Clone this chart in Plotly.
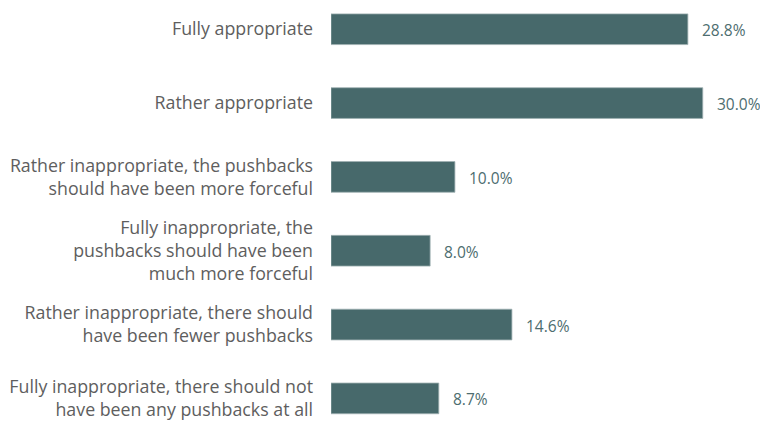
import plotly.graph_objects as go

categories = [
    "Fully appropriate",
    "Rather appropriate",
    "Rather inappropriate, the pushbacks<br>should have been more forceful",
    "Fully inappropriate, the<br>pushbacks should have been<br>much more forceful",
    "Rather inappropriate, there should<br>have been fewer pushbacks",
    "Fully inappropriate, there should not<br>have been any pushbacks at all",
]
shares = [28.8, 30.0, 10.0, 8.0, 14.6, 8.7]
value_labels = ["28.8%", "30.0%", "10.0%", "8.0%", "14.6%", "8.7%"]

BAR = "#47696b"
LABEL = "#5e5e5e"
FONT = "Open Sans"

fig = go.Figure(
    go.Bar(
        x=shares,
        y=categories,
        orientation="h",
        marker=dict(color=BAR, line=dict(color="#9fb1b2", width=0.8)),
        hoverinfo="skip",
    )
)

for cat, val, lab in zip(categories, shares, value_labels):
    fig.add_annotation(
        x=val, y=cat, text=lab, showarrow=False,
        xanchor="left", yanchor="middle", xshift=12, yshift=-1,
        font=dict(family=FONT, size=15.5, color="#4d6d6f"),
    )

fig.update_layout(
    width=760, height=421,
    margin=dict(l=331, r=0, t=0, b=0),
    paper_bgcolor="white", plot_bgcolor="white",
    bargap=0.584,
    showlegend=False,
    font=dict(family=FONT),
    xaxis=dict(range=[0, 34.62], visible=False, fixedrange=True),
    yaxis=dict(
        type="category",
        range=[5.252, -0.396],
        showgrid=False, zeroline=False, showline=False,
        ticks="", ticklabelstandoff=17,
        tickfont=dict(family=FONT, size=17.8, color=LABEL),
        fixedrange=True,
    ),
)

fig.write_html("out.html")
